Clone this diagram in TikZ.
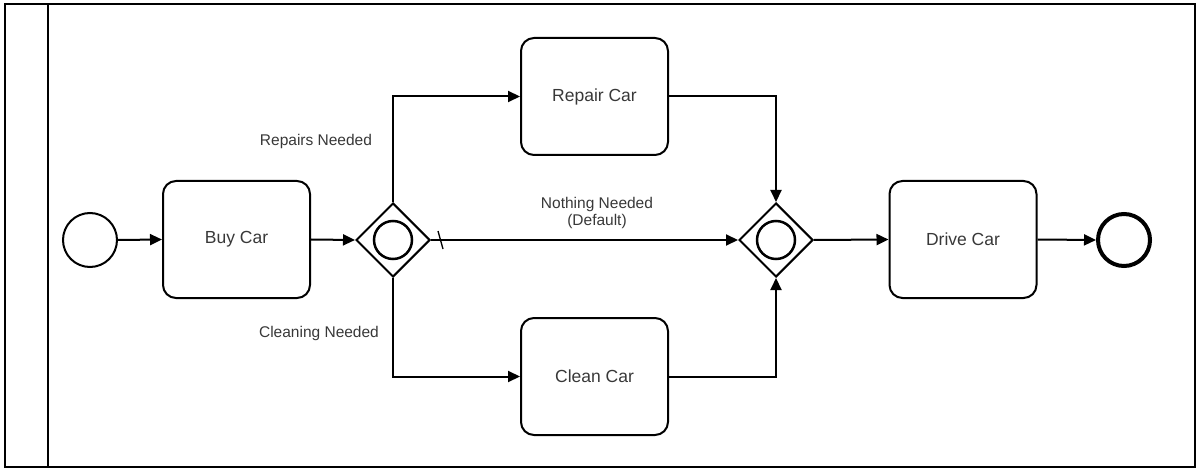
\documentclass[tikz,border=0pt]{standalone}
\usepackage{fontspec}
\setmainfont{Liberation Sans}
\usetikzlibrary{shapes.geometric,arrows.meta}
\tikzset{
  task/.style={draw=black, line width=2pt, rounded corners=13pt, minimum width=147pt, minimum height=117pt, inner sep=0pt, text=black!78, font=\fontsize{17.5}{20}\selectfont},
  gateway/.style={draw=black, line width=2pt, diamond, aspect=1, minimum size=74pt, inner sep=0pt},
  gwmark/.style={draw=black, line width=2.5pt, circle, minimum size=38pt, inner sep=0pt},
  startev/.style={draw=black, line width=2pt, circle, minimum size=54pt, inner sep=0pt},
  endev/.style={draw=black, line width=4pt, circle, minimum size=52pt, inner sep=0pt},
  flow/.style={draw=black, line width=2pt, -{Triangle[length=12pt,width=11pt]}},
  flowlabel/.style={text=black!78, font=\fontsize{15.5}{17}\selectfont, align=center, inner sep=0pt},
}
\begin{document}
\begin{tikzpicture}[x=1pt, y=-1pt]
\useasboundingbox (0,0) rectangle (1198,470);
% pool frame and lane divider
\draw[line width=2pt] (5,4) rectangle (1195,467);
\draw[line width=2pt] (48,4) -- (48,467);

% events, tasks and gateways
\node[startev] (start) at (90,240) {};
\node[task] (buy) at (236.5,239.5) {Buy Car};
\node[gateway] (split) at (393,240) {};
\node[gwmark] at (split) {};
\node[task] (repair) at (594.5,96.5) {Repair Car};
\node[task] (clean) at (594.5,376.5) {Clean Car};
\node[gateway] (join) at (776,240) {};
\node[gwmark] at (join) {};
\node[task] (drive) at (963,239.5) {Drive Car};
\node[endev] (end) at (1124,240) {};

% sequence flows
\draw[flow] (start.east) -- (buy.west);
\draw[flow] (buy.east) -- (split.west);
\draw[flow] (split.north) |- (repair.west);
\draw[flow] (split.south) |- (clean.west);
\draw[flow] (split.east) -- (join.west);
\draw[flow] (repair.east) -| (join.north);
\draw[flow] (clean.east) -| (join.south);
\draw[flow] (join.east) -- (drive.west);
\draw[flow] (drive.east) -- (end.west);

% default-flow marker
\coordinate (slashA) at (438,231);
\coordinate (slashB) at (443,249);
\draw[line width=1.3pt] (slashA) -- (slashB);

% flow labels
\node[flowlabel] (lrep) at (316,141) {Repairs Needed};
\node[flowlabel] (lcln) at (319,333) {Cleaning Needed};
\node[flowlabel] (ldef) at (597,213) {Nothing Needed\\(Default)};
\end{tikzpicture}
\end{document}
